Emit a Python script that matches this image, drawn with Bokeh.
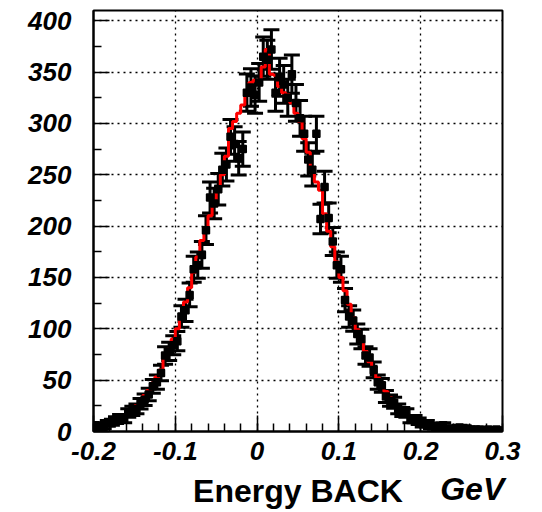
import numpy as np
from bokeh.plotting import figure
from bokeh.models import Range1d, FixedTicker, Whisker, TeeHead, ColumnDataSource, LinearAxis
from bokeh.embed import file_html
from bokeh.resources import INLINE

# Histogram binning: 100 bins from -0.2 to 0.3 GeV
x_min, x_max, n_bins = -0.2, 0.3, 100

# Simulation (red step histogram), counts per bin
sim_counts = [5, 4, 6, 7, 8, 10, 12, 15, 17, 21,
              25, 29, 35, 40, 47, 53, 60, 72, 80, 90,
              100, 112, 126, 140, 155, 170, 186, 198, 210, 222,
              235, 250, 268, 295, 302, 310, 318, 328, 340, 342,
              342, 355, 372, 348, 347, 336, 330, 328, 320, 310,
              302, 285, 272, 255, 243, 235, 212, 195, 180, 165,
              150, 137, 124, 111, 99, 88, 78, 68, 60, 52,
              45, 39, 33, 28, 24, 20, 17, 14, 12, 10,
              8, 7, 6, 5, 4, 4, 3, 3, 2, 2,
              2, 1, 1, 1, 1, 1, 1, 0, 1, 0]

# Data (black points with error bars), counts per bin
data_counts = [6, 4, 5, 8, 9, 11, 13, 12, 18, 20,
               22, 27, 31, 36, 44, 48, 57, 74, 78, 84,
               88, 112, 118, 133, 158, 162, 172, 196, 228, 222,
               236, 255, 260, 287, 280, 266, 275, 330, 335, 328,
               340, 365, 362, 372, 330, 345, 338, 325, 348, 320,
               305, 290, 265, 255, 290, 207, 238, 208, 185, 162,
               158, 128, 112, 108, 95, 90, 74, 72, 60, 48,
               45, 34, 30, 28, 22, 19, 18, 12, 12, 10,
               7, 8, 5, 5, 4, 6, 3, 3, 2, 4,
               2, 3, 1, 2, 2, 1, 2, 1, 2, 1]

x_major = [-0.2, -0.1, 0.0, 0.1, 0.2, 0.3]
x_labels = ["-0.2", "-0.1", "0", "0.1", "0.2", "0.3"]
y_major = [0, 50, 100, 150, 200, 250, 300, 350, 400]
y_labels = ["0", "50", "100", "150", "200", "250", "300", "350", "400"]

title_main = "Energy BACK"
title_unit = "GeV"

edges = np.linspace(x_min, x_max, n_bins + 1)
centers = 0.5 * (edges[:-1] + edges[1:])
data = np.array(data_counts, dtype=float)
err = np.sqrt(data)

p = figure(width=542, height=512, output_backend="svg", toolbar_location=None,
           x_range=Range1d(x_min, x_max), y_range=Range1d(0, 410),
           min_border_left=93, min_border_right=40, min_border_top=10, min_border_bottom=81)
p.background_fill_color = "white"
p.border_fill_color = "white"
p.outline_line_color = "black"
p.outline_line_width = 2

FONT = "Liberation Sans"

# ticks
p.xaxis.ticker = FixedTicker(ticks=x_major, minor_ticks=list(np.round(np.arange(-0.2, 0.3001, 0.02), 3)))
p.yaxis.ticker = FixedTicker(ticks=y_major, minor_ticks=list(range(25, 410, 50)))
p.xaxis.major_label_overrides = {v: s for v, s in zip(x_major, x_labels)}
p.yaxis.major_label_overrides = {v: s for v, s in zip(y_major, y_labels)}
for ax in (p.xaxis[0], p.yaxis[0]):
    ax.axis_line_color = "black"
    ax.axis_line_width = 2
    ax.major_tick_in = 16
    ax.major_tick_out = 0
    ax.minor_tick_in = 8
    ax.minor_tick_out = 0
    ax.major_tick_line_width = 1.5
    ax.minor_tick_line_width = 1.5
    ax.major_tick_line_color = "black"
    ax.minor_tick_line_color = "black"
    ax.major_label_text_font = FONT
    ax.major_label_text_font_style = "bold italic"
    ax.major_label_text_font_size = "26px"
    ax.major_label_text_color = "black"
p.xaxis.major_label_standoff = 10
p.yaxis.major_label_standoff = 22

# second (label-only) axis carrying the x-axis title on one line
unit_pos = 0.263
ax2 = LinearAxis(ticker=FixedTicker(ticks=[unit_pos]),
                 major_label_overrides={unit_pos: title_unit},
                 axis_line_color=None, major_tick_line_color=None, minor_tick_line_color=None,
                 major_tick_in=0, major_tick_out=0, minor_tick_in=0, minor_tick_out=0,
                 major_label_standoff=8,
                 major_label_text_font=FONT, major_label_text_font_style="bold italic",
                 major_label_text_font_size="32px", major_label_text_color="black",
                 axis_label=title_main, axis_label_standoff=-37,
                 axis_label_text_font=FONT, axis_label_text_font_style="bold",
                 axis_label_text_font_size="32px", axis_label_text_color="black")
p.add_layout(ax2, "below")

# grid
for g in (p.xgrid[0], p.ygrid[0]):
    g.grid_line_color = "black"
    g.grid_line_dash = "2 4"
    g.grid_line_width = 1.3

# simulation histogram (red step)
step_y = list(sim_counts) + [sim_counts[-1]]
p.step(x=list(edges), y=step_y, mode="after", line_color="#ff0000", line_width=3)

# data error bars
src = ColumnDataSource(dict(x=centers, y=data, lo=data - err, hi=data + err))
w = Whisker(source=src, base="x", lower="lo", upper="hi", dimension="height",
            line_color="black", line_width=3,
            upper_head=TeeHead(size=16, line_width=3, line_color="black"),
            lower_head=TeeHead(size=16, line_width=3, line_color="black"))
p.add_layout(w)
p.scatter(x="x", y="y", source=src, marker="square", size=7,
          fill_color="black", line_color="black", line_width=1.5)

open("out.html", "w").write(file_html(p, INLINE))
